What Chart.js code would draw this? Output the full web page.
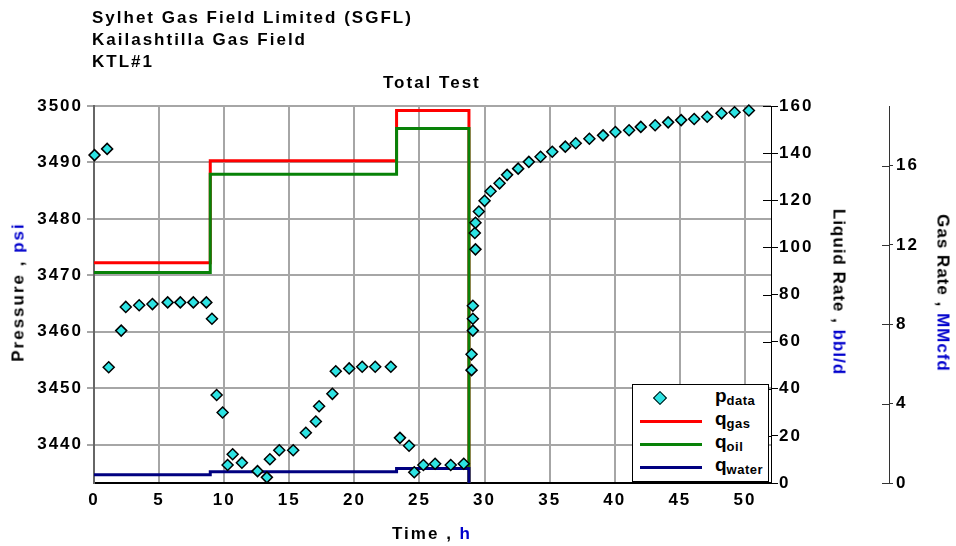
<!DOCTYPE html>
<html>
<head>
<meta charset="utf-8">
<title>KTL#1 Total Test</title>
<script src="https://cdn.jsdelivr.net/npm/chart.js@4.4.1/dist/chart.umd.min.js"></script>
<style>
  html, body { margin: 0; padding: 0; background: #fff; }
  #wrap {
    position: relative; width: 956px; height: 546px; overflow: hidden;
    font-family: "Liberation Sans", Arial, sans-serif; font-weight: bold; color: #000;
  }
  #wrap canvas { position: absolute; left: 0; top: 0; }
  .txt { position: absolute; white-space: nowrap; font-size: 17px; line-height: 17px; letter-spacing: 2px; }
  .axt { transform: translate(-50%, -50%); }
  .up { transform: translate(-50%, -50%) rotate(-90deg); }
  .down { transform: translate(-50%, -50%) rotate(90deg); }
  .unit { color: #0000cc; }
  #legend {
    position: absolute; left: 632px; top: 384px; width: 135px; height: 96px;
    border: 1.5px solid #000; background: #fff;
  }
  .lg-row { position: absolute; left: 0; width: 135px; height: 20px; }
  .lg-line { position: absolute; left: 7px; top: 8.5px; width: 62px; height: 3px; }
  .lg-mark {
    position: absolute; left: 22px; top: 5px; width: 8px; height: 8px;
    background: #2de3e3; border: 1.5px solid #000; transform: rotate(45deg);
  }
  .lg-text { position: absolute; left: 82px; top: -3px; font-size: 19px; line-height: 22px; }
  .lg-text sub { font-size: 13px; vertical-align: -3px; letter-spacing: 0.5px; }
</style>
</head>
<body>
<div id="wrap">
  <canvas id="chart" width="956" height="546"></canvas>
  <div class="txt" style="left:92px; top:9px;">Sylhet Gas Field Limited (SGFL)</div>
  <div class="txt" style="left:92px; top:31px;">Kailashtilla Gas Field</div>
  <div class="txt" style="left:92px; top:53px;">KTL#1</div>
  <div class="txt" style="left:383px; top:74px;">Total Test</div>
  <div class="txt up" style="left:18px; top:292px;">Pressure , <span class="unit">psi</span></div>
  <div class="txt axt" style="left:432px; top:533px;">Time , <span class="unit">h</span></div>
  <div class="txt down" style="left:839px; top:292px; letter-spacing:1px;">Liquid Rate , <span class="unit">bbl/d</span></div>
  <div class="txt down" style="left:943px; top:293px; letter-spacing:1px;">Gas Rate , <span class="unit">MMcfd</span></div>
  <div id="legend"></div>
</div>
<script>
"use strict";

// pressure gauge readings
const TIME_H = [
  0.04, 1.01, 1.13, 2.09, 2.44, 3.47, 4.49, 5.66, 6.63, 7.63,
  8.63, 9.06, 9.42, 9.88, 10.26, 10.65, 11.36, 12.56, 13.28, 13.51,
  14.23, 15.3, 16.27, 17.04, 17.29, 18.31, 18.57, 19.6, 20.6, 21.6,
  22.8, 23.5, 24.2, 24.6, 25.3, 26.2, 27.4, 28.4, 29.1, 29.1,
  29.1, 29.0, 29.0, 29.3, 29.25, 29.3, 29.56, 30.0, 30.46, 31.15,
  31.73, 32.58, 33.4, 34.3, 35.2, 36.2, 37.0, 38.05, 39.1, 40.05,
  41.1, 42.0, 43.1, 44.1, 45.1, 46.1, 47.1, 48.2, 49.2, 50.3,
];
const PRESSURE_PSI = [
  3491.3, 3492.4, 3453.7, 3460.2, 3464.4, 3464.7, 3464.9, 3465.2, 3465.2, 3465.2,
  3465.2, 3462.3, 3448.8, 3445.7, 3436.4, 3438.3, 3436.8, 3435.3, 3434.2, 3437.4,
  3439.0, 3439.0, 3442.1, 3444.1, 3446.8, 3449.0, 3453.0, 3453.5, 3453.8, 3453.8,
  3453.8, 3441.2, 3439.8, 3435.1, 3436.4, 3436.6, 3436.4, 3436.6, 3464.6, 3462.3,
  3460.2, 3456.0, 3453.2, 3474.6, 3477.5, 3479.3, 3481.3, 3483.2, 3484.9, 3486.3,
  3487.8, 3488.9, 3490.1, 3491.0, 3491.9, 3492.8, 3493.4, 3494.2, 3494.8, 3495.4,
  3495.7, 3496.3, 3496.6, 3497.1, 3497.5, 3497.7, 3498.1, 3498.7, 3498.9, 3499.2,
];

// rate steps (value holds from each time until the next one)
const STEP_TIME_H = [0, 8.93, 23.24, 28.8];
const GAS_RATE_MMCFD = [11.1, 16.24, 18.77, 0];
const OIL_RATE_BBLD = [89.3, 131, 150.5, 0];
const WATER_RATE_BBLD = [3.5, 4.8, 6.2, 0];

const TIME_TICKS = [0, 5, 10, 15, 20, 25, 30, 35, 40, 45, 50];
const PRESSURE_TICKS = [3440, 3450, 3460, 3470, 3480, 3490, 3500];
const LIQUID_TICKS = [0, 20, 40, 60, 80, 100, 120, 140, 160];
const GAS_TICKS = [0, 4, 8, 12, 16];

const SERIES_MAIN = ["p", "q", "q", "q"];
const SERIES_SUB = ["data", "gas", "oil", "water"];

const pts = (xs, ys) => xs.map((x, i) => ({ x, y: ys[i] }));
const setTicks = (list) => (scale) => { scale.ticks = list.map((value) => ({ value })); };
const plain = (v) => String(v);
const tickFont = { family: "'Liberation Sans', Arial, sans-serif", size: 17, weight: "bold" };

// extra letter spacing like the original export
const spacedText = {
  id: "spacedText",
  beforeDraw(chart) { chart.ctx.letterSpacing = "2px"; },
};

// rate axes have ticks crossing the axis line
const innerTicks = {
  id: "innerTicks",
  afterDraw(chart) {
    const ctx = chart.ctx;
    [["y1", 8, "#000"], ["y2", 7, "#333"]].forEach(([id, len, color]) => {
      const s = chart.scales[id];
      ctx.save();
      ctx.strokeStyle = color;
      ctx.lineWidth = 1;
      s.ticks.forEach((t) => {
        const y = Math.round(s.getPixelForValue(t.value)) + 0.5;
        ctx.beginPath();
        ctx.moveTo(s.left - len, y);
        ctx.lineTo(s.left, y);
        ctx.stroke();
      });
      ctx.restore();
    });
  },
};

const stepLine = (label, data, color, axis, order) => ({
  type: "line",
  label,
  data,
  yAxisID: axis,
  order,
  borderColor: color,
  backgroundColor: color,
  borderWidth: 3,
  stepped: true,
  pointRadius: 0,
  fill: false,
});

const chart = new Chart(document.getElementById("chart"), {
  type: "scatter",
  data: {
    datasets: [
      {
        label: "p_data",
        data: pts(TIME_H, PRESSURE_PSI),
        yAxisID: "y",
        order: 0,
        pointStyle: "rectRot",
        pointRadius: 5.5,
        pointBackgroundColor: "#2de3e3",
        pointBorderColor: "#000",
        pointBorderWidth: 1.5,
        showLine: false,
        clip: false,
      },
      stepLine("q_gas", pts(STEP_TIME_H, GAS_RATE_MMCFD), "#ff0000", "y2", 3),
      stepLine("q_oil", pts(STEP_TIME_H, OIL_RATE_BBLD), "#088208", "y1", 2),
      stepLine("q_water", pts(STEP_TIME_H, WATER_RATE_BBLD), "#000080", "y1", 1),
    ],
  },
  options: {
    responsive: false,
    animation: false,
    layout: { padding: { top: 106, left: 0, right: 0, bottom: 0 } },
    plugins: { legend: { display: false }, tooltip: { enabled: false } },
    scales: {
      x: {
        type: "linear",
        position: "bottom",
        min: 0,
        max: 52,
        afterBuildTicks: setTicks(TIME_TICKS),
        afterFit: (s) => { s.height = 63; },
        grid: { color: "#a6a6a6", lineWidth: 2, drawTicks: false },
        border: { color: "#000", width: 2 },
        ticks: { color: "#000", font: tickFont, padding: 7, maxRotation: 0, autoSkip: false, callback: plain },
      },
      y: {
        position: "left",
        min: 3433.2,
        max: 3500,
        afterBuildTicks: setTicks(PRESSURE_TICKS),
        afterFit: (s) => { s.width = 94; },
        grid: { color: "#a6a6a6", lineWidth: 2, tickLength: 7 },
        border: { color: "#666", width: 2 },
        ticks: { color: "#000", font: tickFont, padding: 4, autoSkip: false, callback: plain },
      },
      y1: {
        position: "right",
        weight: 0,
        min: 0,
        max: 160,
        afterBuildTicks: setTicks(LIQUID_TICKS),
        afterFit: (s) => { s.width = 118; },
        grid: { drawOnChartArea: false, color: "#000", lineWidth: 1, tickLength: 7 },
        border: { color: "#000", width: 1 },
        ticks: { color: "#000", font: tickFont, padding: 1, autoSkip: false, callback: plain },
      },
      y2: {
        position: "right",
        weight: 1,
        min: 0,
        max: 19,
        afterBuildTicks: setTicks(GAS_TICKS),
        afterFit: (s) => { s.width = 67; },
        grid: { drawOnChartArea: false, color: "#333", lineWidth: 1, tickLength: 4 },
        border: { color: "#333", width: 1 },
        ticks: { color: "#000", font: tickFont, padding: 3, autoSkip: false, callback: plain },
      },
    },
  },
  plugins: [spacedText, innerTicks],
});

// legend with subscripts, built from the datasets
const legendBox = document.getElementById("legend");
chart.data.datasets.forEach((ds, i) => {
  const row = document.createElement("div");
  row.className = "lg-row";
  row.style.top = 3 + i * 23 + "px";
  const mark = document.createElement("div");
  if (i === 0) {
    mark.className = "lg-mark";
  } else {
    mark.className = "lg-line";
    mark.style.background = ds.borderColor;
  }
  const text = document.createElement("div");
  text.className = "lg-text";
  text.innerHTML = `${SERIES_MAIN[i]}<sub>${SERIES_SUB[i]}</sub>`;
  row.appendChild(mark);
  row.appendChild(text);
  legendBox.appendChild(row);
});
</script>
</body>
</html>
